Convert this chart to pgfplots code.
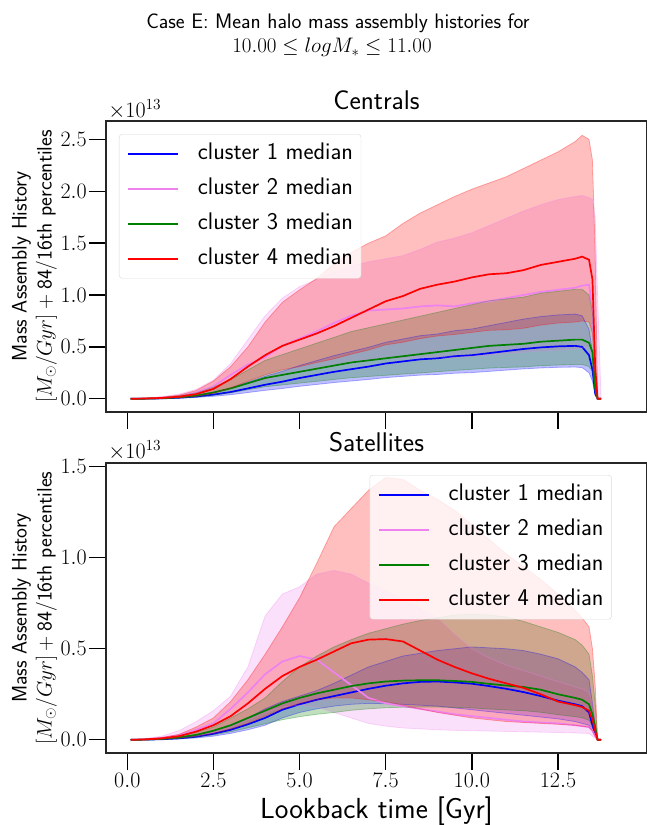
\RequirePackage{fix-cm}
\documentclass[border=0pt]{standalone}
\usepackage{fontspec}
\usepackage{pgfplots}
\pgfplotsset{compat=1.18}
\usepackage{pgfplotstable}
\usepgfplotslibrary{fillbetween}
\renewcommand{\familydefault}{\sfdefault}
\definecolor{cblue}{RGB}{0,0,255}
\definecolor{cviolet}{RGB}{238,130,238}
\definecolor{cgreen}{RGB}{0,128,0}
\definecolor{cred}{RGB}{255,0,0}

% Centrals (values in units of 1e13)
\pgfplotstableread{
x blo bmed bhi vlo vmed vhi glo gmed ghi rlo rmed rhi
0.1 0 0 0 0 0 0 0 0 0 0 0 0
0.5 0.0006 0.001 0.0016 0.0014 0.003 0.006 0.0006 0.001 0.002 0.001 0.002 0.005
1.0 0.0024 0.004 0.0064 0.0045 0.01 0.02 0.003 0.005 0.009 0.0044 0.008 0.015
1.5 0.006 0.01 0.016 0.011 0.025 0.045 0.009 0.015 0.028 0.011 0.02 0.035
2.0 0.013 0.022 0.035 0.027 0.06 0.09 0.017 0.03 0.056 0.025 0.045 0.08
2.5 0.024 0.04 0.064 0.054 0.12 0.18 0.035 0.06 0.111 0.052 0.095 0.17
3.0 0.039 0.065 0.104 0.10 0.23 0.34 0.058 0.10 0.185 0.105 0.19 0.31
3.5 0.06 0.10 0.16 0.15 0.33 0.57 0.087 0.15 0.278 0.17 0.31 0.50
4.0 0.081 0.135 0.216 0.18 0.40 0.80 0.116 0.20 0.37 0.23 0.42 0.74
4.5 0.099 0.165 0.264 0.23 0.51 0.97 0.133 0.23 0.426 0.28 0.51 0.93
5.0 0.12 0.20 0.32 0.26 0.58 1.08 0.151 0.26 0.481 0.31 0.57 1.05
5.5 0.138 0.23 0.368 0.29 0.65 1.15 0.168 0.29 0.537 0.35 0.63 1.16
6.0 0.156 0.26 0.416 0.32 0.73 1.22 0.186 0.32 0.592 0.385 0.70 1.30
6.5 0.171 0.285 0.456 0.36 0.80 1.28 0.203 0.35 0.648 0.43 0.78 1.41
7.0 0.186 0.31 0.496 0.38 0.85 1.32 0.215 0.37 0.685 0.47 0.86 1.50
7.5 0.204 0.34 0.544 0.39 0.86 1.35 0.226 0.39 0.722 0.52 0.94 1.57
8.0 0.216 0.36 0.576 0.39 0.87 1.38 0.238 0.41 0.759 0.545 0.99 1.69
8.5 0.228 0.38 0.608 0.40 0.89 1.44 0.249 0.43 0.796 0.58 1.06 1.79
9.0 0.234 0.39 0.624 0.405 0.90 1.51 0.261 0.45 0.833 0.605 1.10 1.87
9.5 0.246 0.41 0.656 0.40 0.89 1.55 0.273 0.47 0.87 0.62 1.13 1.95
10.0 0.252 0.42 0.672 0.41 0.92 1.60 0.284 0.49 0.907 0.64 1.17 2.02
10.5 0.264 0.44 0.704 0.42 0.94 1.67 0.296 0.51 0.944 0.66 1.20 2.08
11.0 0.276 0.46 0.736 0.44 0.97 1.74 0.302 0.52 0.962 0.665 1.21 2.14
11.5 0.288 0.48 0.768 0.45 1.00 1.81 0.307 0.53 0.98 0.68 1.24 2.22
12.0 0.297 0.495 0.792 0.46 1.03 1.87 0.319 0.55 1.018 0.71 1.29 2.30
12.5 0.303 0.505 0.808 0.47 1.05 1.92 0.325 0.56 1.036 0.73 1.32 2.38
13.0 0.306 0.51 0.816 0.48 1.07 1.95 0.331 0.57 1.055 0.74 1.35 2.48
13.2 0.30 0.50 0.80 0.49 1.09 1.96 0.331 0.57 1.055 0.75 1.37 2.54
13.4 0.25 0.42 0.67 0.50 1.10 1.94 0.31 0.54 1.0 0.74 1.34 2.50
13.5 0.17 0.28 0.45 0.38 0.85 1.92 0.26 0.45 0.83 0.63 1.15 2.30
13.58 0.03 0.05 0.08 0.07 0.15 1.75 0.06 0.10 0.19 0.17 0.30 1.40
13.65 0 0 0 0 0 1.0 0 0 0 0 0 0
13.75 0 0 0 0 0 0 0 0 0 0 0 0
}\toptab

% Satellites (values in units of 1e13)
\pgfplotstableread{
x blo bmed bhi vlo vmed vhi glo gmed ghi rlo rmed rhi
0.1 0 0 0 0 0 0 0 0 0 0 0 0
0.5 0.0005 0.001 0.0015 0.001 0.003 0.006 0.0005 0.001 0.002 0.001 0.002 0.004
1.0 0.002 0.003 0.005 0.004 0.01 0.02 0.003 0.005 0.008 0.004 0.008 0.012
1.5 0.005 0.008 0.012 0.01 0.025 0.05 0.007 0.013 0.02 0.01 0.02 0.03
2.0 0.01 0.017 0.025 0.02 0.055 0.10 0.015 0.027 0.04 0.02 0.045 0.07
2.5 0.02 0.033 0.05 0.04 0.09 0.16 0.027 0.05 0.07 0.035 0.08 0.12
3.0 0.035 0.055 0.08 0.07 0.17 0.24 0.044 0.08 0.12 0.06 0.13 0.21
3.5 0.055 0.085 0.12 0.11 0.26 0.40 0.066 0.12 0.17 0.09 0.20 0.33
4.0 0.08 0.12 0.17 0.15 0.36 0.68 0.088 0.16 0.23 0.13 0.28 0.47
4.5 0.12 0.165 0.21 0.18 0.43 0.80 0.11 0.20 0.32 0.17 0.35 0.62
5.0 0.15 0.195 0.24 0.19 0.46 0.84 0.127 0.23 0.40 0.20 0.40 0.78
5.5 0.17 0.22 0.27 0.18 0.44 0.91 0.14 0.255 0.46 0.22 0.44 0.97
6.0 0.185 0.24 0.31 0.15 0.37 0.93 0.15 0.275 0.51 0.23 0.485 1.17
6.5 0.195 0.26 0.355 0.12 0.30 0.91 0.162 0.295 0.55 0.23 0.53 1.27
7.0 0.2 0.28 0.40 0.09 0.23 0.86 0.17 0.31 0.585 0.22 0.55 1.37
7.5 0.198 0.297 0.43 0.075 0.20 0.82 0.176 0.32 0.61 0.21 0.553 1.44
8.0 0.195 0.31 0.46 0.065 0.185 0.77 0.179 0.325 0.635 0.19 0.54 1.43
8.5 0.19 0.318 0.475 0.06 0.17 0.72 0.18 0.327 0.655 0.17 0.49 1.37
9.0 0.185 0.32 0.49 0.055 0.155 0.67 0.18 0.327 0.67 0.15 0.44 1.32
9.5 0.175 0.315 0.50 0.052 0.14 0.58 0.178 0.323 0.685 0.135 0.40 1.26
10.0 0.165 0.308 0.51 0.05 0.13 0.50 0.175 0.318 0.69 0.12 0.365 1.18
10.5 0.155 0.295 0.505 0.048 0.12 0.45 0.169 0.307 0.685 0.11 0.335 1.10
11.0 0.145 0.28 0.50 0.046 0.11 0.41 0.164 0.298 0.675 0.10 0.31 1.02
11.5 0.135 0.262 0.49 0.044 0.10 0.38 0.16 0.29 0.65 0.095 0.285 0.95
12.0 0.125 0.24 0.47 0.042 0.095 0.35 0.151 0.275 0.62 0.09 0.25 0.88
12.5 0.115 0.215 0.445 0.04 0.09 0.32 0.138 0.25 0.59 0.085 0.21 0.80
13.0 0.10 0.195 0.40 0.038 0.08 0.29 0.127 0.23 0.55 0.08 0.19 0.71
13.2 0.09 0.185 0.37 0.036 0.075 0.28 0.121 0.22 0.52 0.075 0.18 0.67
13.4 0.08 0.15 0.33 0.035 0.07 0.26 0.107 0.195 0.47 0.07 0.16 0.62
13.5 0.05 0.08 0.2 0.02 0.05 0.2 0.077 0.14 0.35 0.05 0.11 0.50
13.58 0.02 0.03 0.08 0.01 0.02 0.1 0.04 0.07 0.2 0.02 0.05 0.3
13.65 0 0 0 0 0 0 0 0 0 0 0 0
13.75 0 0 0 0 0 0 0 0 0 0 0 0
}\bottab

\pgfplotsset{
  panel/.style={
    scale only axis, width=541pt,
    xmin=-0.618, xmax=15.083,
    clip mode=individual,
    axis line style={black!85, line width=1.2pt},
    tick align=outside, xtick pos=bottom, ytick pos=left,
    major tick length=17pt,
    tick style={black, line width=1.4pt},
    tick label style={font=\fontsize{22}{22}\selectfont},
    xtick={0,2.5,5,7.5,10,12.5},
    yticklabel style={inner xsep=2pt, /pgf/number format/.cd, fixed, fixed zerofill, precision=1},
    xticklabel style={/pgf/number format/.cd, fixed, fixed zerofill, precision=1},
    title style={font=\fontsize{27}{27}\selectfont, at={(axis description cs:0.5,1)}, anchor=base, yshift=5pt},
    ylabel style={align=center, font=\fontsize{21}{25}\selectfont, at={(axis description cs:-0.0906,0.5)}, anchor=south, inner sep=0pt},
    ylabel={Mass Assembly History\\$[M_\odot/Gyr] + {}$84$/$16th percentiles},
    legend cell align=left,
    legend image code/.code={\draw[#1] (0pt,0pt) -- (50pt,0pt);},
    legend style={draw=black!15, rounded corners=3pt, fill=white, fill opacity=0.8, text opacity=1, draw opacity=1,
      inner xsep=8pt, inner ysep=8pt, row sep=12pt, column sep=19pt,
      font=\fontsize{24}{24}\selectfont,
      nodes={inner sep=0pt, text height=17pt, text depth=6pt}},
  },
  edge/.style={draw=#1, draw opacity=0.3, line width=0.8pt, forget plot},
  med/.style={draw=#1, line width=1.7pt},
}

\begin{document}
\begin{tikzpicture}

\node[anchor=base, inner sep=0pt, font=\fontsize{21}{21}\selectfont] at (338pt,796pt) {Case E: Mean halo mass assembly histories for};
\node[anchor=base, inner sep=0pt, font=\fontsize{21}{21}\selectfont] at (332pt,772pt) {$10.00 \leq log M_* \leq 11.00$};

% ---------- Centrals ----------
\begin{axis}[panel, at={(106pt,413pt)}, anchor=south west, height=291pt,
  ymin=-0.1275, ymax=2.6775, ytick={0,0.5,1,1.5,2,2.5},
  xticklabel={\mbox{}},
  title={Centrals},
  legend style={at={(axis description cs:0.024,0.955)}, anchor=north west}]
\addplot[edge=cblue, name path=a1] table[x=x,y=bhi]{\toptab};
\addplot[edge=cblue, name path=b1] table[x=x,y=blo]{\toptab};
\addplot[fill=cblue, fill opacity=0.25, draw=none, forget plot] fill between[of=a1 and b1];
\addplot[med=cblue] table[x=x,y=bmed]{\toptab};
\addlegendentry{cluster 1 median}
\addplot[edge=cviolet, name path=a2] table[x=x,y=vhi]{\toptab};
\addplot[edge=cviolet, name path=b2] table[x=x,y=vlo]{\toptab};
\addplot[fill=cviolet, fill opacity=0.25, draw=none, forget plot] fill between[of=a2 and b2];
\addplot[med=cviolet] table[x=x,y=vmed]{\toptab};
\addlegendentry{cluster 2 median}
\addplot[edge=cgreen, name path=a3] table[x=x,y=ghi]{\toptab};
\addplot[edge=cgreen, name path=b3] table[x=x,y=glo]{\toptab};
\addplot[fill=cgreen, fill opacity=0.25, draw=none, forget plot] fill between[of=a3 and b3];
\addplot[med=cgreen] table[x=x,y=gmed]{\toptab};
\addlegendentry{cluster 3 median}
\addplot[edge=cred, name path=a4] table[x=x,y=rhi]{\toptab};
\addplot[edge=cred, name path=b4] table[x=x,y=rlo]{\toptab};
\addplot[fill=cred, fill opacity=0.25, draw=none, forget plot] fill between[of=a4 and b4];
\addplot[med=cred] table[x=x,y=rmed]{\toptab};
\addlegendentry{cluster 4 median}
\node[anchor=base west, font=\fontsize{22}{22}\selectfont, inner sep=0pt] at (axis description cs:0.004,1.011) {$\times10^{13}$};
\end{axis}

% ---------- Satellites ----------
\begin{axis}[panel, at={(106pt,72pt)}, anchor=south west, height=290pt,
  ymin=-0.0725, ymax=1.52, ytick={0,0.5,1,1.5},
  title={Satellites},
  xlabel={Lookback time [Gyr]},
  xlabel style={font=\fontsize{29}{29}\selectfont, at={(axis description cs:0.5,0)}, anchor=base, yshift=-66pt},
  legend style={at={(axis description cs:0.935,0.9586)}, anchor=north east}]
\addplot[edge=cblue, name path=a1] table[x=x,y=bhi]{\bottab};
\addplot[edge=cblue, name path=b1] table[x=x,y=blo]{\bottab};
\addplot[fill=cblue, fill opacity=0.25, draw=none, forget plot] fill between[of=a1 and b1];
\addplot[med=cblue] table[x=x,y=bmed]{\bottab};
\addlegendentry{cluster 1 median}
\addplot[edge=cviolet, name path=a2] table[x=x,y=vhi]{\bottab};
\addplot[edge=cviolet, name path=b2] table[x=x,y=vlo]{\bottab};
\addplot[fill=cviolet, fill opacity=0.25, draw=none, forget plot] fill between[of=a2 and b2];
\addplot[med=cviolet] table[x=x,y=vmed]{\bottab};
\addlegendentry{cluster 2 median}
\addplot[edge=cgreen, name path=a3] table[x=x,y=ghi]{\bottab};
\addplot[edge=cgreen, name path=b3] table[x=x,y=glo]{\bottab};
\addplot[fill=cgreen, fill opacity=0.25, draw=none, forget plot] fill between[of=a3 and b3];
\addplot[med=cgreen] table[x=x,y=gmed]{\bottab};
\addlegendentry{cluster 3 median}
\addplot[edge=cred, name path=a4] table[x=x,y=rhi]{\bottab};
\addplot[edge=cred, name path=b4] table[x=x,y=rlo]{\bottab};
\addplot[fill=cred, fill opacity=0.25, draw=none, forget plot] fill between[of=a4 and b4];
\addplot[med=cred] table[x=x,y=rmed]{\bottab};
\addlegendentry{cluster 4 median}
\node[anchor=base west, font=\fontsize{22}{22}\selectfont, inner sep=0pt] at (axis description cs:0.004,1.014) {$\times10^{13}$};
\end{axis}

\pgfresetboundingbox
\useasboundingbox (0pt,0pt) rectangle (646pt,825pt);
\end{tikzpicture}
\end{document}
